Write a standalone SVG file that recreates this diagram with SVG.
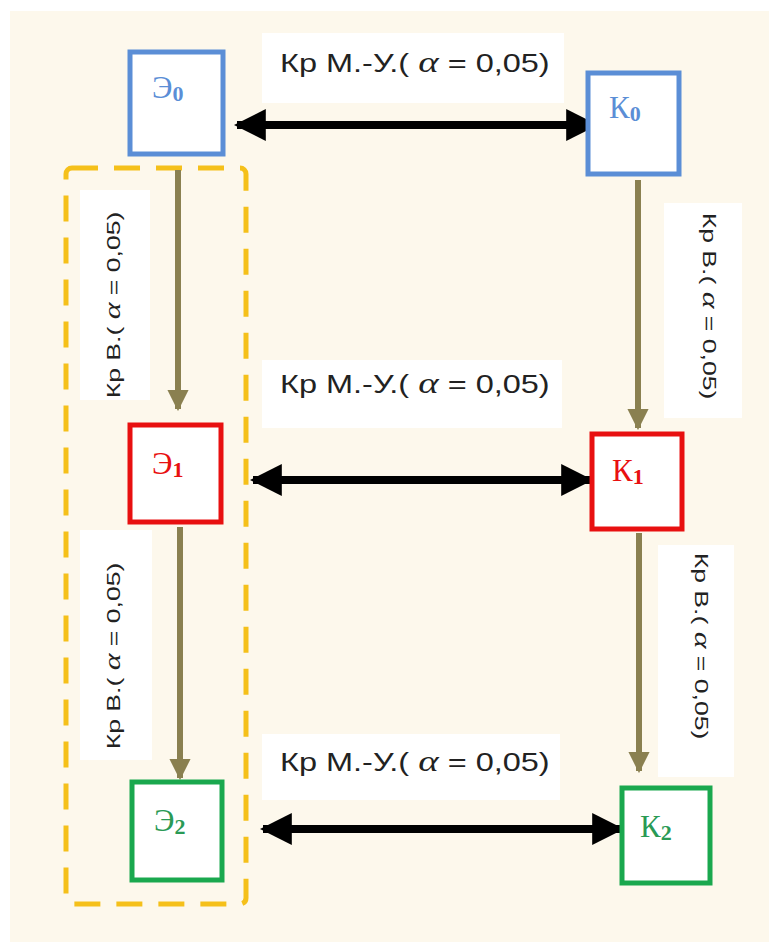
<svg xmlns="http://www.w3.org/2000/svg" width="769" height="942" viewBox="0 0 769 942">
<defs>
<style>
.box{fill:#ffffff;stroke-width:5}
.lbl{fill:#ffffff}
.t{font-family:"Liberation Sans",Arial,sans-serif;font-size:25px;fill:#222}
.tv{font-family:"Liberation Sans",Arial,sans-serif;font-size:19px;fill:#222}
.a{font-family:"Liberation Serif","Times New Roman",serif;font-style:italic;font-size:1.2em}
.n{font-family:"Liberation Serif","Times New Roman",serif;font-size:31px}
.sub{font-size:22px;font-weight:bold}
.h{stroke:#000;stroke-width:8;fill:none}
.v{stroke:#8a8050;stroke-width:6;fill:none}
</style>
<marker id="bh" viewBox="0 0 10 10" refX="9" refY="5" markerWidth="4" markerHeight="4" orient="auto-start-reverse" markerUnits="strokeWidth">
<path d="M0,0 L10,5 L0,10 z" fill="#000"/>
</marker>
<marker id="vh" viewBox="0 0 10 10" refX="9" refY="5" markerWidth="3.6" markerHeight="3.6" orient="auto" markerUnits="strokeWidth">
<path d="M0,0 L10,5 L0,10 z" fill="#8a8050"/>
</marker>
</defs>
<rect x="0" y="0" width="769" height="942" fill="#ffffff"/>
<rect x="10" y="11" width="759" height="931" fill="#fdf8ec"/>

<rect id="group-box" x="66" y="168" width="180" height="736" rx="6" fill="none" stroke="#f5c01a" stroke-width="5" stroke-dasharray="26 16"/>

<g id="labels">
<rect class="lbl" x="262" y="33" width="302" height="70"/>
<text class="t" transform="translate(280,72) scale(1.3,1)">Кр М.-У.( <tspan class="a">α</tspan> = 0,05)</text>
<rect class="lbl" x="262" y="360" width="300" height="68"/>
<text class="t" transform="translate(280,393) scale(1.3,1)">Кр М.-У.( <tspan class="a">α</tspan> = 0,05)</text>
<rect class="lbl" x="262" y="734" width="298" height="66"/>
<text class="t" transform="translate(280,771) scale(1.3,1)">Кр М.-У.( <tspan class="a">α</tspan> = 0,05)</text>

<rect class="lbl" x="80" y="190" width="70" height="210"/>
<text class="tv" transform="translate(120,305) rotate(-90) scale(1.4,1)" text-anchor="middle">Кр В.( <tspan class="a">α</tspan> = 0,05)</text>
<rect class="lbl" x="80" y="530" width="72" height="230"/>
<text class="tv" transform="translate(120,656) rotate(-90) scale(1.4,1)" text-anchor="middle">Кр В.( <tspan class="a">α</tspan> = 0,05)</text>
<rect class="lbl" x="664" y="203" width="78" height="215"/>
<text class="tv" transform="translate(703,306) rotate(90) scale(1.4,1)" text-anchor="middle">Кр В.( <tspan class="a">α</tspan> = 0,05)</text>
<rect class="lbl" x="658" y="545" width="76" height="232"/>
<text class="tv" transform="translate(695,646) rotate(90) scale(1.4,1)" text-anchor="middle">Кр В.( <tspan class="a">α</tspan> = 0,05)</text>
</g>

<g id="connectors">
<line class="h" x1="237" y1="125" x2="595" y2="125" marker-start="url(#bh)" marker-end="url(#bh)"/>
<line class="h" x1="253" y1="480" x2="590" y2="480" marker-start="url(#bh)" marker-end="url(#bh)"/>
<line class="h" x1="263" y1="829" x2="621" y2="829" marker-start="url(#bh)" marker-end="url(#bh)"/>
<line class="v" x1="178" y1="170" x2="178" y2="409" marker-end="url(#vh)"/>
<line class="v" x1="180" y1="527" x2="180" y2="778" marker-end="url(#vh)"/>
<line class="v" x1="638" y1="180" x2="638" y2="428" marker-end="url(#vh)"/>
<line class="v" x1="639" y1="533" x2="639" y2="771" marker-end="url(#vh)"/>
</g>

<g id="E0">
<rect class="box" x="130" y="52" width="93" height="102" stroke="#5b8ed6"/>
<text class="n" x="152" y="98" fill="#5b8ed6">Э<tspan class="sub" dy="3">0</tspan></text>
</g>
<g id="K0">
<rect class="box" x="588" y="73" width="91" height="101" stroke="#5b8ed6"/>
<text class="n" x="609" y="118" fill="#5b8ed6">К<tspan class="sub" dy="3">0</tspan></text>
</g>
<g id="E1">
<rect class="box" x="130" y="425" width="91" height="97" stroke="#e81010"/>
<text class="n" x="152" y="474" fill="#e81010">Э<tspan class="sub" dy="3">1</tspan></text>
</g>
<g id="K1">
<rect class="box" x="592" y="434" width="90" height="95" stroke="#e81010"/>
<text class="n" x="612" y="481" fill="#e81010">К<tspan class="sub" dy="3">1</tspan></text>
</g>
<g id="E2">
<rect class="box" x="132" y="782" width="90" height="98" stroke="#1aa84e"/>
<text class="n" x="154" y="831" fill="#2a9a55">Э<tspan class="sub" dy="3">2</tspan></text>
</g>
<g id="K2">
<rect class="box" x="622" y="788" width="88" height="95" stroke="#1aa84e"/>
<text class="n" x="640" y="837" fill="#2a9a55">К<tspan class="sub" dy="3">2</tspan></text>
</g>
</svg>
